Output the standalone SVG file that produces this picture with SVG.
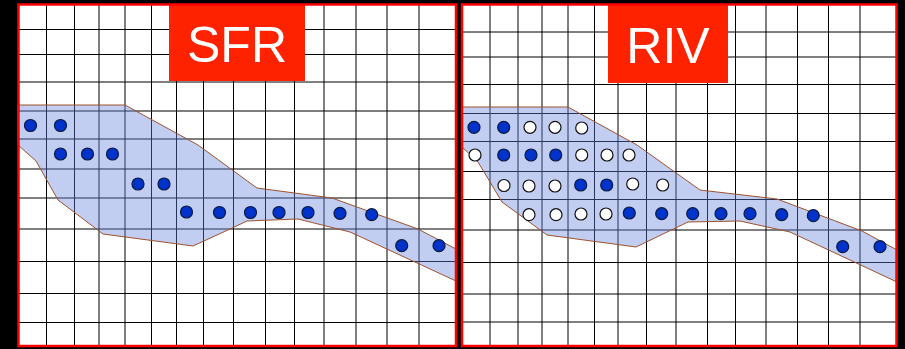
<svg xmlns="http://www.w3.org/2000/svg" width="905" height="349" viewBox="0 0 905 349">
<style>
.panel{fill:#fff}
.border{fill:none;stroke:#ff0000;stroke-width:2.5}
.g{stroke:#000;stroke-width:1;fill:none}
.label{fill:#ff2200}
.lt{font-family:"Liberation Sans",Arial,sans-serif;font-size:50px;fill:#fff;text-anchor:middle}
.band{fill:rgb(100,130,220);fill-opacity:0.4;stroke:#a0522d;stroke-width:1}
.b{fill:#0033cc;stroke:#0a1a40;stroke-width:1.2}
.w{fill:#fff;stroke:#111;stroke-width:1.2}
</style>
<rect x="0" y="0" width="905" height="349" fill="#000"/>

<g id="sfr-panel">
<rect class="panel" x="18.5" y="4.5" width="437.5" height="341.5"/>
<path class="g" d="M46.5 4V346M74.5 4V346M99 4V346M125 4V346M151.5 4V346M176.5 4V346M203.5 4V346M233.5 4V346M265.5 4V346M294.5 4V346M324 4V346M356 4V346M387 4V346M419 4V346"/>
<path class="g" d="M18 29.5H456M18 54.5H456M18 82H456M18 111H456M18 139H456M18 169H456M18 198H456M18 229H456M18 261.5H456M18 293.5H456M18 322.5H456"/>
</g>
<g id="sfr-label">
<rect class="label" x="169" y="4" width="136" height="77"/>
<text class="lt" x="237" y="62">SFR</text>
</g>
<g id="sfr-band">
<polygon class="band" points="18,105 125,105 198,145 257,188 332,198 418,229 456,249 456,281 350,232 298,219 247,221 230,229 193,246 103,234 58,200 36,161 18,145"/>
</g>
<g id="sfr-dots">
<circle class="b" cx="30.5" cy="125.5" r="6"/>
<circle class="b" cx="60.5" cy="125.5" r="6"/>
<circle class="b" cx="60.5" cy="154" r="6"/>
<circle class="b" cx="87.5" cy="154" r="6"/>
<circle class="b" cx="112.5" cy="154" r="6"/>
<circle class="b" cx="138" cy="184" r="6"/>
<circle class="b" cx="164" cy="184" r="6"/>
<circle class="b" cx="186.5" cy="212" r="6"/>
<circle class="b" cx="219.5" cy="212.5" r="6"/>
<circle class="b" cx="250.5" cy="212.5" r="6"/>
<circle class="b" cx="279" cy="212.5" r="6"/>
<circle class="b" cx="308" cy="212.5" r="6"/>
<circle class="b" cx="340" cy="213.3" r="6"/>
<circle class="b" cx="371.7" cy="214.7" r="6"/>
<circle class="b" cx="401.7" cy="245.7" r="6"/>
<circle class="b" cx="439" cy="245.7" r="6"/>
</g>
<rect class="border" x="18.5" y="4.5" width="437.5" height="341.5"/>

<g id="riv-panel">
<rect class="panel" x="462" y="4.5" width="434.5" height="341.5"/>
<path class="g" d="M490 4V346M518 4V346M542 4V346M568 4V346M594.5 4V346M618 4V346M646.5 4V346M676 4V346M707.5 4V346M735.5 4V346M766 4V346M797.5 4V346M828.5 4V346M860 4V346"/>
<path class="g" d="M462 32H897M462 57H897M462 84.5H897M462 113.5H897M462 141.5H897M462 171.5H897M462 199.5H897M462 230H897M462 262.5H897M462 294H897M462 322H897"/>
</g>
<g id="riv-label">
<rect class="label" x="608" y="4" width="120" height="79"/>
<text class="lt" x="668" y="63">RIV</text>
</g>
<g id="riv-band">
<polygon class="band" points="462,107 568,107 637,145 700,190 777,199 862,231 897,250 897,282 790,232 740,221 688,222 636,247 547,235 502,202 478,162 462,147"/>
</g>
<g id="riv-dots">
<circle class="b" cx="474" cy="127.3" r="6"/>
<circle class="b" cx="503.7" cy="127.3" r="6"/>
<circle class="w" cx="530" cy="127.3" r="6"/>
<circle class="w" cx="555" cy="127.3" r="6"/>
<circle class="w" cx="581.7" cy="128" r="6"/>
<circle class="w" cx="475" cy="155" r="6"/>
<circle class="b" cx="503.7" cy="155" r="6"/>
<circle class="b" cx="531" cy="155" r="6"/>
<circle class="b" cx="555.7" cy="155" r="6"/>
<circle class="w" cx="581.7" cy="155" r="6"/>
<circle class="w" cx="607" cy="155" r="6"/>
<circle class="w" cx="629" cy="155" r="6"/>
<circle class="w" cx="504" cy="185.5" r="6"/>
<circle class="w" cx="529" cy="186" r="6"/>
<circle class="w" cx="555" cy="186" r="6"/>
<circle class="b" cx="580.7" cy="185" r="6"/>
<circle class="b" cx="606.7" cy="185" r="6"/>
<circle class="w" cx="632.7" cy="184" r="6"/>
<circle class="w" cx="662.7" cy="185" r="6"/>
<circle class="w" cx="529" cy="214.7" r="6"/>
<circle class="w" cx="556" cy="214.7" r="6"/>
<circle class="w" cx="581" cy="214" r="6"/>
<circle class="w" cx="606" cy="214" r="6"/>
<circle class="b" cx="629.3" cy="213" r="6"/>
<circle class="b" cx="661.7" cy="213.7" r="6"/>
<circle class="b" cx="692.7" cy="213.7" r="6"/>
<circle class="b" cx="721" cy="213.7" r="6"/>
<circle class="b" cx="750" cy="213.7" r="6"/>
<circle class="b" cx="781.7" cy="214.7" r="6"/>
<circle class="b" cx="813.3" cy="215.7" r="6"/>
<circle class="b" cx="842.7" cy="246.7" r="6"/>
<circle class="b" cx="880" cy="246.7" r="6"/>
</g>
<rect class="border" x="462" y="4.5" width="434.5" height="341.5"/>
</svg>
